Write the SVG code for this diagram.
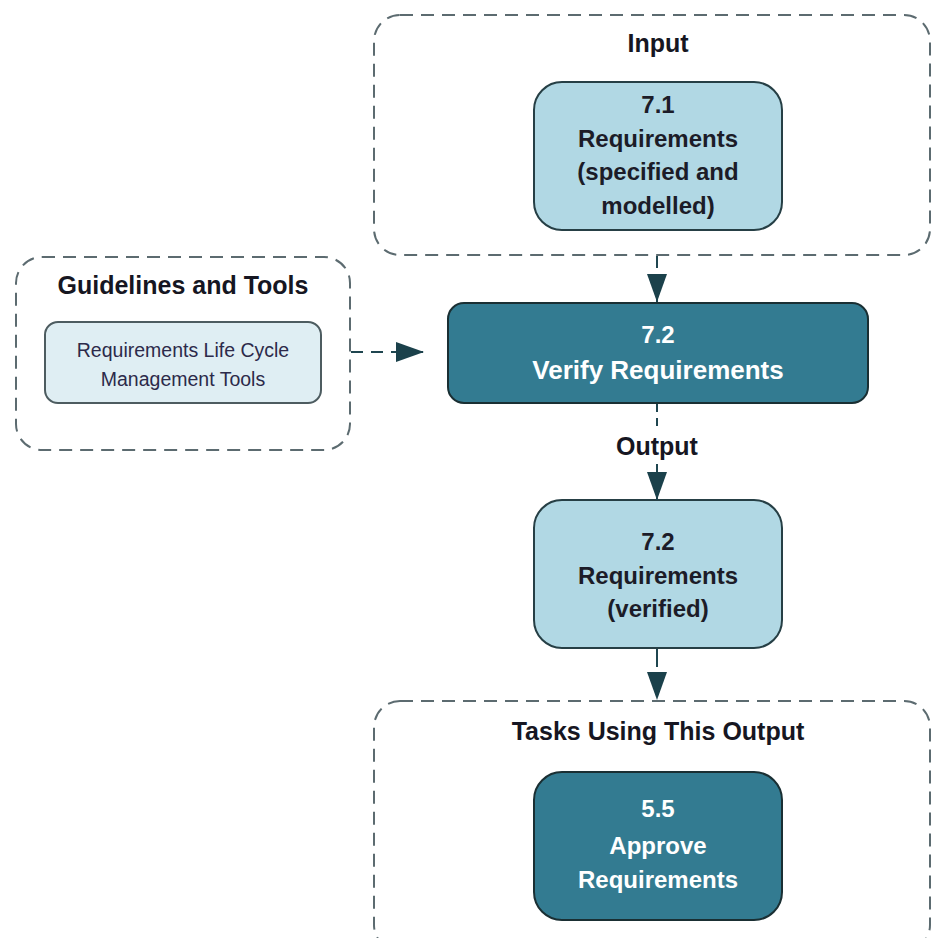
<svg xmlns="http://www.w3.org/2000/svg" width="933" height="938" viewBox="0 0 933 938">
<style>
.container{fill:none;stroke:#5c6b70;stroke-width:2;stroke-dasharray:13 8}
.light{fill:#b1d8e4;stroke:#263f45;stroke-width:2}
.dark{fill:#337b91;stroke:#1a2f33;stroke-width:2}
.pale{fill:#dfeef3;stroke:#4d5c60;stroke-width:2}
.title{font-family:"Liberation Sans",Arial,sans-serif;font-weight:bold;font-size:25px;fill:#161622;text-anchor:middle}
.nt{font-family:"Liberation Sans",Arial,sans-serif;font-weight:bold;font-size:24px;fill:#1c1c28;text-anchor:middle}
.wt{font-family:"Liberation Sans",Arial,sans-serif;font-weight:bold;font-size:24px;fill:#ffffff;text-anchor:middle}
.rt{font-family:"Liberation Sans",Arial,sans-serif;font-size:19.5px;fill:#2c2a4a;text-anchor:middle}
.conn{fill:none;stroke:#1f4650;stroke-width:2;stroke-dasharray:10 8}
</style>
<defs>
<marker id="arr" markerWidth="14" markerHeight="14" refX="13" refY="7" orient="auto" markerUnits="userSpaceOnUse" viewBox="0 0 14 14">
<path d="M0,0 L14,7 L0,14 Z" fill="#1b414b"/>
</marker>
<marker id="arrbig" viewBox="0 0 28 20" refX="28" refY="10" markerWidth="28" markerHeight="20" orient="auto" markerUnits="userSpaceOnUse">
<path d="M0,0 L28,10 L0,20 Z" fill="#1b414b"/>
</marker>
</defs>

<g id="input-group">
<rect class="container" x="374" y="15" width="556" height="240" rx="26"/>
<text class="title" x="658" y="52">Input</text>
</g>
<g id="node-7-1">
<rect class="light" x="534" y="82" width="248" height="148" rx="28"/>
<text class="nt" x="658" y="113">7.1</text>
<text class="nt" x="658" y="147">Requirements</text>
<text class="nt" x="658" y="180">(specified and</text>
<text class="nt" x="658" y="214">modelled)</text>
</g>

<g id="guidelines-group">
<rect class="container" x="16" y="257" width="334" height="193" rx="26"/>
<text class="title" x="183" y="294">Guidelines and Tools</text>
</g>
<g id="node-tools">
<rect class="pale" x="45" y="322" width="276" height="81" rx="13"/>
<text class="rt" x="183" y="357">Requirements Life Cycle</text>
<text class="rt" x="183" y="386">Management Tools</text>
</g>

<g id="node-7-2-verify">
<rect class="dark" x="448" y="303" width="420" height="100" rx="16"/>
<text class="wt" x="658" y="343" font-size="26">7.2</text>
<text class="wt" x="658" y="379" style="font-size:26px">Verify Requirements</text>
</g>

<g id="output-label">
<text class="title" x="657" y="455">Output</text>
</g>

<g id="node-7-2-req">
<rect class="light" x="534" y="500" width="248" height="148" rx="28"/>
<text class="nt" x="658" y="550">7.2</text>
<text class="nt" x="658" y="584">Requirements</text>
<text class="nt" x="658" y="617">(verified)</text>
</g>

<g id="tasks-group">
<rect class="container" x="374" y="701" width="556" height="250" rx="26"/>
<text class="title" x="658" y="740">Tasks Using This Output</text>
</g>
<g id="node-5-5">
<rect class="dark" x="534" y="772" width="248" height="148" rx="28"/>
<text class="wt" x="658" y="817">5.5</text>
<text class="wt" x="658" y="854">Approve</text>
<text class="wt" x="658" y="888">Requirements</text>
</g>

<g id="connectors">
<path class="conn" d="M657,256 V302" marker-end="url(#arrbig)" style="stroke-dasharray:12 8"/>
<path class="conn" d="M351,352 H424" marker-end="url(#arrbig)" style="stroke-dasharray:12 8"/>
<path class="conn" d="M657,404 V428" style="stroke-dasharray:8 6"/>
<path class="conn" d="M657,464 V500" marker-end="url(#arrbig)" style="stroke-dasharray:8 6"/>
<path class="conn" d="M657,649 V700" marker-end="url(#arrbig)" style="stroke-dasharray:18 8"/>
</g>
</svg>
